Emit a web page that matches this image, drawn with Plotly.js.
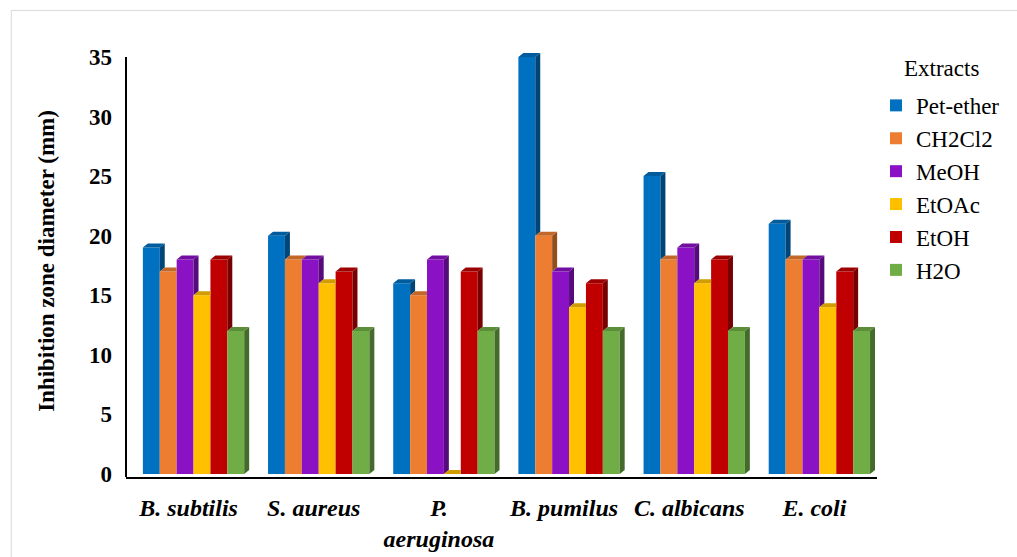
<!DOCTYPE html>
<html>
<head>
<meta charset="utf-8">
<script src="https://cdn.plot.ly/plotly-3.0.1.min.js"></script>
<style>html,body{margin:0;padding:0;background:#fff;}#chart{width:1017px;height:557px;}</style>
</head>
<body>
<div id="chart"></div>
<script>
// ---- data ----
const categories = ["B. subtilis", "S. aureus", "P.<br>aeruginosa", "B. pumilus", "C. albicans", "E. coli"];
const seriesNames = ["Pet-ether", "CH2Cl2", "MeOH", "EtOAc", "EtOH", "H2O"];
const petEther = [19, 20, 16, 35, 25, 21];
const ch2cl2   = [17, 18, 15, 20, 18, 18];
const meoh     = [18, 18, 18, 17, 19, 18];
const etoac    = [15, 16, 0, 14, 16, 14];
const etoh     = [18, 17, 17, 16, 18, 17];
const h2o      = [12, 12, 12, 12, 12, 12];
const yTicks   = [0, 5, 10, 15, 20, 25, 30, 35];

const seriesValues = [petEther, ch2cl2, meoh, etoac, etoh, h2o];
const frontColors = ["#0070C0", "#ED7D31", "#8B12C4", "#FFC000", "#C00000", "#70AD47"];

// ---- geometry helpers (px -> data units) ----
const W = 1017, H = 557;
const yRange = [-0.25, 36];
const yAxisTop = 35;
const pxPerUnitY = 420 / 35.25;
const plotBottom = 477;
const plotTop = plotBottom - (yRange[1] - yRange[0]) * pxPerUnitY;
const margin = {l: 126, r: 135, t: plotTop, b: H - plotBottom};
const plotW = W - margin.l - margin.r;
const plotH = plotBottom - plotTop;
const xRange = [-0.5, 5.5];
const pxX = (xRange[1] - xRange[0]) / plotW;
const pxY = 1 / pxPerUnitY;
const barW = 17 * pxX;
const groupOff = -46 * pxX;
const dx = 5 * pxX, dy = 4 * pxY;
const toPaperY = py => (plotBottom - py) / plotH;
const toPaperX = px => (px - margin.l) / plotW;

function shade(hex, f) {
  const n = parseInt(hex.slice(1), 16);
  const r = Math.round(((n >> 16) & 255) * f), g = Math.round(((n >> 8) & 255) * f), b = Math.round((n & 255) * f);
  return "rgb(" + r + "," + g + "," + b + ")";
}

const xIdx = categories.map((c, i) => i);
const traces = [];
const sideTraces = [], topTraces = [];

seriesNames.forEach((name, s) => {
  traces.push({
    type: "bar", name: name, x: xIdx, y: seriesValues[s],
    width: barW, offset: groupOff + s * barW,
    marker: {color: frontColors[s], line: {width: 0}},
    hoverinfo: "y+name"
  });
  const sx = [], sy = [], tx = [], ty = [];
  xIdx.forEach(c => {
    const h = seriesValues[s][c];
    const hn = s < seriesNames.length - 1 ? seriesValues[s + 1][c] : 0;
    const x0 = c + groupOff + s * barW, x1 = x0 + barW;
    // top face (clipped by next bar)
    const t = Math.min(Math.max(hn - h, 0), dy);
    tx.push(x0, x1, x1, x1 + dx * (dy - t) / dy, x0 + dx, x0, null);
    ty.push(h, h, h + t, h + dy, h + dy, h, null);
    // side face (visible part above next bar)
    if (hn < h) {
      sx.push(x1, x1, x1 + dx, x1 + dx, x1, null);
      sy.push(hn, h, h + dy, hn + dy, hn, null);
    }
  });
  sideTraces.push({type: "scatter", mode: "lines", x: sx, y: sy, fill: "toself",
    fillcolor: shade(frontColors[s], 0.62), line: {width: 0}, showlegend: false, hoverinfo: "skip"});
  topTraces.push({type: "scatter", mode: "lines", x: tx, y: ty, fill: "toself",
    fillcolor: shade(frontColors[s], 0.82), line: {width: 0}, showlegend: false, hoverinfo: "skip"});
});

const data = traces.concat(sideTraces, topTraces);

const fontFam = "'Liberation Serif', 'Times New Roman', serif";
const layout = {
  width: W, height: H, margin: margin,
  paper_bgcolor: "#fff", plot_bgcolor: "#fff",
  barmode: "overlay",
  showlegend: true,
  font: {family: fontFam, color: "#000", size: 24},
  xaxis: {
    range: xRange, tickmode: "array", tickvals: xIdx, ticktext: categories,
    showline: true, linecolor: "#000", linewidth: 2, showgrid: false, zeroline: false,
    ticks: "", ticklabelstandoff: 8,
    tickfont: {family: fontFam, size: 24, weight: "bold", style: "italic", color: "#000"},
    fixedrange: true
  },
  yaxis: {
    range: yRange, tickmode: "array", tickvals: yTicks,
    showline: false, showgrid: false, zeroline: false,
    ticks: "", ticklabelstandoff: 13,
    tickfont: {family: fontFam, size: 23, weight: "bold", color: "#000"},
    title: {text: "Inhibition zone diameter (mm)", standoff: 27,
      font: {family: fontFam, size: 23, weight: "bold", color: "#000"}},
    fixedrange: true
  },
  legend: {
    x: toPaperX(881), xanchor: "left",
    y: toPaperY(84), yanchor: "top",
    font: {family: fontFam, size: 23, color: "#000"},
    bgcolor: "rgba(0,0,0,0)", borderwidth: 0
  },
  annotations: [{
    text: "Extracts", xref: "paper", yref: "paper",
    x: toPaperX(947), y: toPaperY(69),
    xanchor: "center", yanchor: "middle", showarrow: false,
    font: {family: fontFam, size: 23, color: "#000"}
  }],
  shapes: [
    {type: "line", xref: "paper", yref: "y", x0: 0, x1: 0, y0: yRange[0], y1: yAxisTop,
     line: {color: "#000", width: 2}},
    {type: "rect", xref: "paper", yref: "paper", layer: "below",
     x0: toPaperX(10.5), x1: 1.4, y0: -0.4, y1: toPaperY(10.5),
     line: {color: "#D9D9D9", width: 1}, fillcolor: "rgba(0,0,0,0)"}
  ]
};

Plotly.newPlot("chart", data, layout, {displayModeBar: false, staticPlot: true});
</script>
</body>
</html>
